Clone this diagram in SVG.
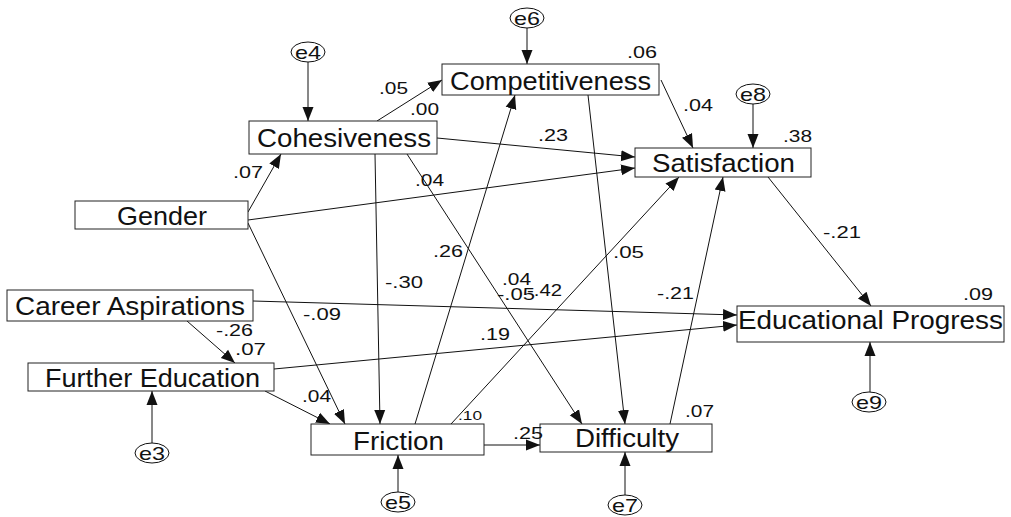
<svg xmlns="http://www.w3.org/2000/svg" width="1011" height="517" viewBox="0 0 1011 517">
  <style>
    .box { fill: #fff; stroke: #222; stroke-width: 1; }
    .err { fill: #fff; stroke: #111; stroke-width: 1; }
    .name { font-family: "Liberation Sans", Arial, sans-serif; font-size: 25px; fill: #111; }
    .ename { font-family: "Liberation Sans", Arial, sans-serif; font-size: 19px; fill: #111; text-anchor: middle; }
    .lbl { font-family: "Liberation Sans", Arial, sans-serif; font-size: 16px; fill: #111; }
    .lbl-s { font-family: "Liberation Sans", Arial, sans-serif; font-size: 13px; fill: #111; }
    #connectors line { stroke: #111; stroke-width: 1; fill: none; marker-end: url(#arrow); }
  </style>
  <defs>
    <marker id="arrow" markerUnits="userSpaceOnUse" markerWidth="15" markerHeight="13" refX="14" refY="6.5" orient="auto">
      <path d="M0,1 L14,6.5 L0,12 z" fill="#111"/>
    </marker>
  </defs>
  <rect width="1011" height="517" fill="#fff"/>

  <!-- paths between variables -->
  <g id="connectors">
    <line x1="527" y1="28" x2="527" y2="64"/>
    <line x1="308" y1="62" x2="308" y2="121"/>
    <line x1="753" y1="104" x2="753" y2="148"/>
    <line x1="152" y1="443" x2="152" y2="391"/>
    <line x1="398" y1="492" x2="398" y2="455"/>
    <line x1="625" y1="495" x2="625" y2="452"/>
    <line x1="870" y1="392" x2="870" y2="342"/>
    <line x1="377" y1="121" x2="442" y2="80"/>
    <line x1="437" y1="138" x2="635" y2="157"/>
    <line x1="248" y1="220" x2="635" y2="168"/>
    <line x1="248" y1="212" x2="281" y2="154"/>
    <line x1="248" y1="223" x2="345" y2="424"/>
    <line x1="375" y1="154" x2="380" y2="424"/>
    <line x1="407" y1="154" x2="582" y2="424"/>
    <line x1="415" y1="424" x2="515" y2="95"/>
    <line x1="588" y1="95" x2="625" y2="424"/>
    <line x1="661" y1="80" x2="693" y2="148"/>
    <line x1="451" y1="424" x2="679" y2="177"/>
    <line x1="670" y1="424" x2="723" y2="177"/>
    <line x1="768" y1="177" x2="871" y2="306"/>
    <line x1="253" y1="301" x2="737" y2="315"/>
    <line x1="274" y1="369" x2="737" y2="325"/>
    <line x1="187" y1="321" x2="235" y2="363"/>
    <line x1="265" y1="391" x2="330" y2="424"/>
    <line x1="484" y1="445" x2="540" y2="445"/>
  </g>

  <!-- observed variables -->
  <g id="competitiveness">
    <rect class="box" x="442" y="64" width="217" height="31"/>
    <text class="name" x="450" y="90" textLength="201" lengthAdjust="spacingAndGlyphs">Competitiveness</text>
  </g>
  <g id="cohesiveness">
    <rect class="box" x="249" y="121" width="188" height="33"/>
    <text class="name" x="257" y="147" textLength="174" lengthAdjust="spacingAndGlyphs">Cohesiveness</text>
  </g>
  <g id="satisfaction">
    <rect class="box" x="635" y="148" width="176" height="29"/>
    <text class="name" x="652" y="172" textLength="143" lengthAdjust="spacingAndGlyphs">Satisfaction</text>
  </g>
  <g id="gender">
    <rect class="box" x="75" y="201" width="173" height="28"/>
    <text class="name" x="117" y="225" textLength="90" lengthAdjust="spacingAndGlyphs">Gender</text>
  </g>
  <g id="career-aspirations">
    <rect class="box" x="7" y="290" width="246" height="31"/>
    <text class="name" x="15" y="315" textLength="230" lengthAdjust="spacingAndGlyphs">Career Aspirations</text>
  </g>
  <g id="educational-progress">
    <rect class="box" x="737" y="306" width="267" height="36"/>
    <text class="name" x="738" y="329" textLength="265" lengthAdjust="spacingAndGlyphs">Educational Progress</text>
  </g>
  <g id="further-education">
    <rect class="box" x="28" y="363" width="246" height="28"/>
    <text class="name" x="45" y="387" textLength="215" lengthAdjust="spacingAndGlyphs">Further Education</text>
  </g>
  <g id="friction">
    <rect class="box" x="311" y="424" width="173" height="31"/>
    <text class="name" x="353" y="450" textLength="91" lengthAdjust="spacingAndGlyphs">Friction</text>
  </g>
  <g id="difficulty">
    <rect class="box" x="540" y="424" width="172" height="28"/>
    <text class="name" x="575" y="447" textLength="104" lengthAdjust="spacingAndGlyphs">Difficulty</text>
  </g>

  <!-- error terms -->
  <g id="e6">
    <ellipse class="err" cx="527" cy="18" rx="17" ry="10"/>
    <text class="ename" x="527" y="25" textLength="26" lengthAdjust="spacingAndGlyphs">e6</text>
  </g>
  <g id="e4">
    <ellipse class="err" cx="308" cy="52" rx="17" ry="10"/>
    <text class="ename" x="308" y="59" textLength="26" lengthAdjust="spacingAndGlyphs">e4</text>
  </g>
  <g id="e8">
    <ellipse class="err" cx="753" cy="94" rx="17" ry="10"/>
    <text class="ename" x="753" y="101" textLength="26" lengthAdjust="spacingAndGlyphs">e8</text>
  </g>
  <g id="e3">
    <ellipse class="err" cx="152" cy="453" rx="17" ry="10"/>
    <text class="ename" x="152" y="460" textLength="26" lengthAdjust="spacingAndGlyphs">e3</text>
  </g>
  <g id="e5">
    <ellipse class="err" cx="398" cy="502" rx="17" ry="10"/>
    <text class="ename" x="398" y="509" textLength="26" lengthAdjust="spacingAndGlyphs">e5</text>
  </g>
  <g id="e7">
    <ellipse class="err" cx="625" cy="505" rx="17" ry="10"/>
    <text class="ename" x="625" y="512" textLength="26" lengthAdjust="spacingAndGlyphs">e7</text>
  </g>
  <g id="e9">
    <ellipse class="err" cx="869" cy="402" rx="17" ry="10"/>
    <text class="ename" x="869" y="409" textLength="26" lengthAdjust="spacingAndGlyphs">e9</text>
  </g>

  <!-- coefficients and squared multiple correlations -->
  <g id="labels">
    <text class="lbl" x="379" y="94" textLength="29" lengthAdjust="spacingAndGlyphs">.05</text>
    <text class="lbl" x="410" y="115" textLength="29" lengthAdjust="spacingAndGlyphs">.00</text>
    <text class="lbl" x="627" y="58" textLength="30" lengthAdjust="spacingAndGlyphs">.06</text>
    <text class="lbl" x="683" y="111" textLength="30" lengthAdjust="spacingAndGlyphs">.04</text>
    <text class="lbl" x="538" y="141" textLength="30" lengthAdjust="spacingAndGlyphs">.23</text>
    <text class="lbl" x="783" y="142" textLength="29" lengthAdjust="spacingAndGlyphs">.38</text>
    <text class="lbl" x="415" y="186" textLength="29" lengthAdjust="spacingAndGlyphs">.04</text>
    <text class="lbl" x="233" y="178" textLength="30" lengthAdjust="spacingAndGlyphs">.07</text>
    <text class="lbl" x="823" y="238" textLength="38" lengthAdjust="spacingAndGlyphs">-.21</text>
    <text class="lbl" x="433" y="257" textLength="30" lengthAdjust="spacingAndGlyphs">.26</text>
    <text class="lbl" x="613" y="258" textLength="31" lengthAdjust="spacingAndGlyphs">.05</text>
    <text class="lbl" x="385" y="288" textLength="38" lengthAdjust="spacingAndGlyphs">-.30</text>
    <text class="lbl" x="502" y="285" textLength="29" lengthAdjust="spacingAndGlyphs">.04</text>
    <text class="lbl" x="497" y="300" textLength="38" lengthAdjust="spacingAndGlyphs">-.05</text>
    <text class="lbl" x="527" y="296" textLength="35" lengthAdjust="spacingAndGlyphs">-.42</text>
    <text class="lbl" x="657" y="299" textLength="37" lengthAdjust="spacingAndGlyphs">-.21</text>
    <text class="lbl" x="963" y="300" textLength="30" lengthAdjust="spacingAndGlyphs">.09</text>
    <text class="lbl" x="303" y="320" textLength="38" lengthAdjust="spacingAndGlyphs">-.09</text>
    <text class="lbl" x="216" y="336" textLength="37" lengthAdjust="spacingAndGlyphs">-.26</text>
    <text class="lbl" x="480" y="340" textLength="30" lengthAdjust="spacingAndGlyphs">.19</text>
    <text class="lbl" x="235" y="355" textLength="31" lengthAdjust="spacingAndGlyphs">.07</text>
    <text class="lbl" x="302" y="402" textLength="29" lengthAdjust="spacingAndGlyphs">.04</text>
    <text class="lbl-s" x="458" y="420" textLength="24" lengthAdjust="spacingAndGlyphs">.10</text>
    <text class="lbl" x="685" y="417" textLength="29" lengthAdjust="spacingAndGlyphs">.07</text>
    <text class="lbl" x="513" y="439" textLength="30" lengthAdjust="spacingAndGlyphs">.25</text>
  </g>
</svg>
